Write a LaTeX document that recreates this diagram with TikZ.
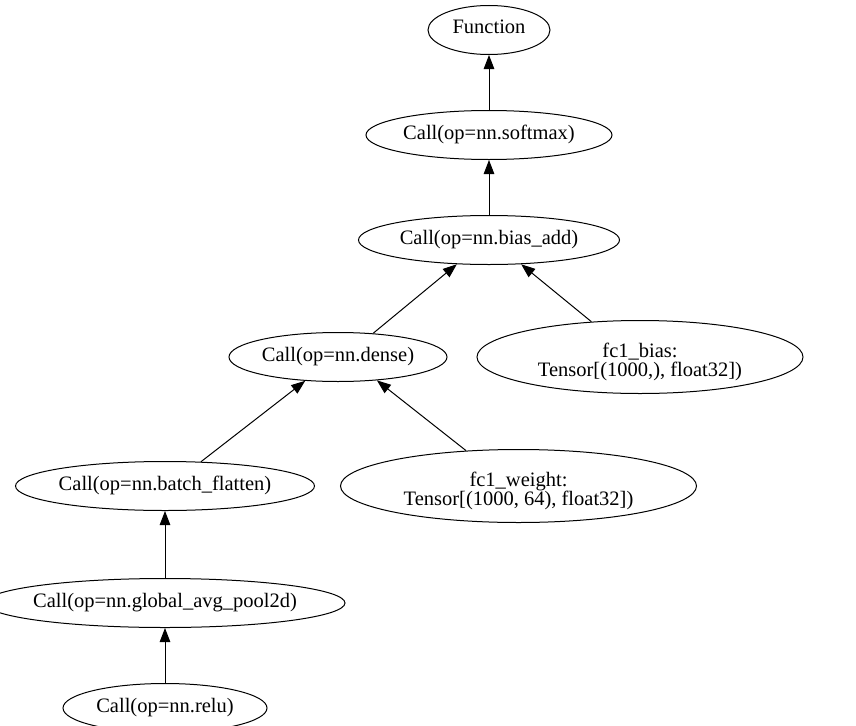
\documentclass[tikz,border=0pt]{standalone}
\usepackage{fontspec}
\setmainfont{Liberation Serif}
\usetikzlibrary{arrows.meta,shapes.geometric}

% zero-size labels so the ellipse size is set only by its minimum dimensions
\newcommand{\gvone}[1]{\makebox[0pt]{\smash{\raisebox{-4pt}{#1}}}}
\newcommand{\gvtwo}[2]{\makebox[0pt]{\smash{\begin{tabular}[t]{@{}c@{}}#1\\#2\end{tabular}}}}

\tikzset{
  gv/.style={ellipse, draw, line width=1pt, inner sep=0pt,
             font=\fontsize{20.5}{17.7}\selectfont},
  flow/.style={line width=1pt, -{Triangle[length=14pt,width=10.5pt]}},
}

\begin{document}
\begin{tikzpicture}[x=1pt,y=-1pt]
  \fill[white] (0,0) rectangle (856,725);
  \useasboundingbox (0,0) rectangle (856,725);

  \node[gv, minimum width=122, minimum height=49] (fn)      at (489,30)  {\gvone{Function}};
  \node[gv, minimum width=246, minimum height=49] (softmax) at (489,135) {\gvone{Call(op=nn.softmax)}};
  \node[gv, minimum width=261, minimum height=49] (bias)    at (489,240) {\gvone{Call(op=nn.bias\_add)}};
  \node[gv, minimum width=218, minimum height=49] (dense)   at (338,357) {\gvone{Call(op=nn.dense)}};
  \node[gv, minimum width=326, minimum height=73] (fcb)     at (640,357) {\gvtwo{fc1\_bias:}{Tensor[(1000,), float32])}};
  \node[gv, minimum width=299, minimum height=49] (bf)      at (165,486) {\gvone{Call(op=nn.batch\_flatten)}};
  \node[gv, minimum width=356, minimum height=73] (fcw)     at (518.5,486) {\gvtwo{fc1\_weight:}{Tensor[(1000, 64), float32])}};
  \node[gv, minimum width=360, minimum height=49] (gap)     at (165,603) {\gvone{Call(op=nn.global\_avg\_pool2d)}};
  \node[gv, minimum width=204, minimum height=49] (relu)    at (165,708) {\gvone{Call(op=nn.relu)}};

  \draw[flow] (softmax) -- (fn);
  \draw[flow] (bias) -- (softmax);
  \draw[flow] (dense.34) -- (bias.-143);
  \draw[flow] (fcb.144) -- (bias.-37);
  \draw[flow] (bf.34) -- (dense.-144);
  \draw[flow] (fcw.146) -- (dense.-31);
  \draw[flow] (gap) -- (bf);
  \draw[flow] (relu) -- (gap);
\end{tikzpicture}
\end{document}
